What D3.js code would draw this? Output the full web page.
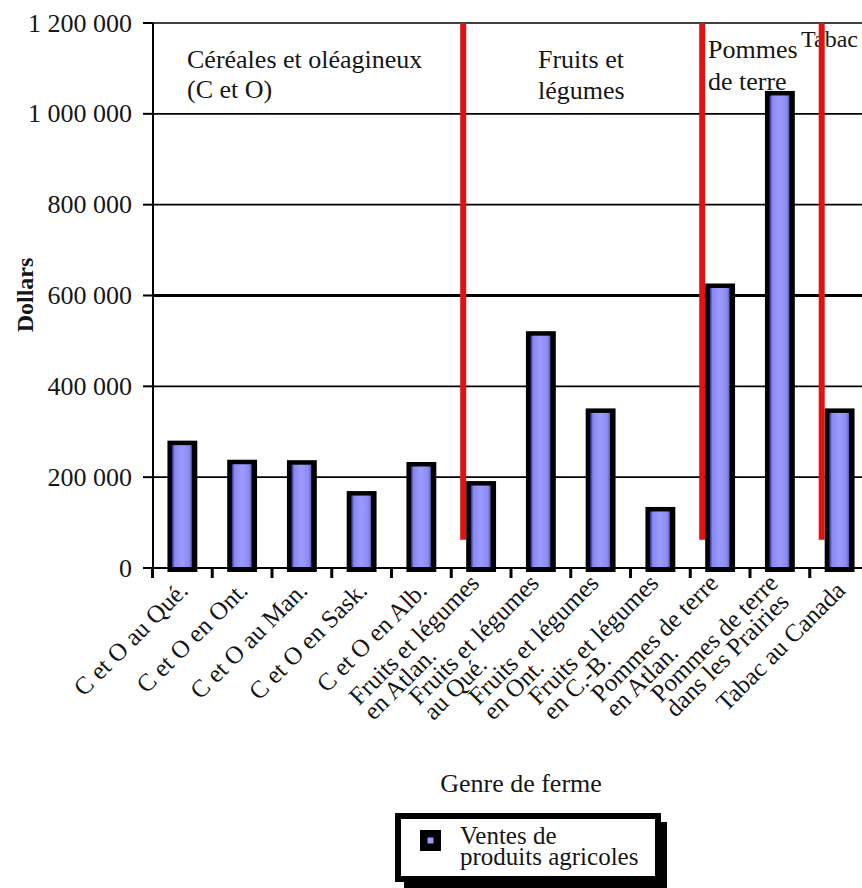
<!DOCTYPE html>
<html>
<head>
<meta charset="utf-8">
<script src="https://cdn.jsdelivr.net/npm/d3@7"></script>
<style>
  body { margin: 0; background: #fff; }
  svg { display: block; }
  text { font-family: "Liberation Serif", "Times New Roman", serif; fill: #161616; }
</style>
</head>
<body>
<svg id="canvas" width="862" height="888"></svg>
<script>
// farm types, one label line per entry
var categories = [
    ['C et O au Qué.'],
    ['C et O en Ont.'],
    ['C et O au Man.'],
    ['C et O en Sask.'],
    ['C et O en Alb.'],
    ['Fruits et légumes', 'en Atlan.'],
    ['Fruits et légumes', 'au Qué.'],
    ['Fruits et légumes', 'en Ont.'],
    ['Fruits et légumes', 'en C.-B.'],
    ['Pommes de terre', 'en Atlan.'],
    ['Pommes de terre', 'dans les Prairies'],
    ['Tabac au Canada']
];
var sales = [276000, 234000, 233000, 165000, 229000, 187000, 517000, 347000, 130000, 622000, 1046000, 347000];
var yTicks = [0, 200000, 400000, 600000, 800000, 1000000, 1200000];
var groupNames = [['Céréales et oléagineux', '(C et O)'], ['Fruits et', 'légumes'], ['Pommes', 'de terre'], ['Tabac']];
var separators = [5, 9, 11];   // red line before these categories
var seriesName = ['Ventes de', 'produits agricoles'];

(function() {
    var svg = d3.select('#canvas');
    var fontSize = 26;

    function fmt(v) {
        return d3.format(',')(v).replace(/,/g, ' ');
    }

    var x = d3.scaleBand()
        .domain(d3.range(categories.length))
        .range([152.5, 869.5]);
    var y = d3.scaleLinear()
        .domain([0, 1200000])
        .range([568, 23]);
    var step = x.step();

    var defs = svg.append('defs');
    var grad = defs.append('linearGradient').attr('id', 'barFill');
    [['0%', '#23238a'], ['14%', '#8888ee'], ['50%', '#9a9aff'], ['86%', '#8c8cf0'], ['100%', '#5a5ab8']]
        .forEach(function(s) {
            grad.append('stop').attr('offset', s[0]).attr('stop-color', s[1]);
        });

    // gridlines
    svg.append('g')
        .selectAll('line')
        .data(yTicks.slice(1))
        .enter().append('line')
        .attr('x1', 153).attr('x2', 862)
        .attr('y1', function(d) { return y(d); })
        .attr('y2', function(d) { return y(d); })
        .attr('stroke', '#000')
        .attr('stroke-width', function(d) { return d === 600000 ? 3 : 1.6; });

    // bars: black frame, blue body
    var bar = svg.append('g')
        .selectAll('g')
        .data(sales)
        .enter().append('g');
    var bw = step * 0.5;
    bar.append('rect')
        .attr('x', function(d, i) { return x(i) + step * 0.25; })
        .attr('y', function(d) { return y(d) - 2; })
        .attr('width', bw)
        .attr('height', function(d) { return y(0) - y(d) + 6; })
        .attr('fill', '#000');
    bar.append('rect')
        .attr('x', function(d, i) { return x(i) + step * 0.25 + 4.5; })
        .attr('y', function(d) { return y(d) + 2.5; })
        .attr('width', bw - 10)
        .attr('height', function(d) { return y(0) - y(d) - 3; })
        .attr('fill', 'url(#barFill)');

    // group captions inside the plot
    var groupPos = [[187, 68, 30, 26], [538, 68, 31, 26], [708, 58, 32, 26], [801, 47, 30, 24]];
    groupNames.forEach(function(lines, g) {
        var p = groupPos[g];
        lines.forEach(function(t, k) {
            svg.append('text')
                .attr('x', p[0])
                .attr('y', p[1] + k * p[2])
                .attr('font-size', p[3])
                .text(t);
        });
    });

    // red separators
    svg.append('g')
        .selectAll('line')
        .data(separators)
        .enter().append('line')
        .attr('x1', function(d) { return x(d) + step * 0.2; })
        .attr('x2', function(d) { return x(d) + step * 0.2; })
        .attr('y1', y(1200000))
        .attr('y2', y(62000))
        .attr('stroke', '#e01212')
        .attr('stroke-width', 6);

    // axes
    svg.append('line')
        .attr('x1', 153).attr('x2', 153)
        .attr('y1', y(1200000)).attr('y2', y(0))
        .attr('stroke', '#000').attr('stroke-width', 2);
    svg.append('line')
        .attr('x1', 143).attr('x2', 862)
        .attr('y1', y(0)).attr('y2', y(0))
        .attr('stroke', '#000').attr('stroke-width', 2.2);

    svg.append('g')
        .selectAll('line')
        .data(yTicks)
        .enter().append('line')
        .attr('x1', 143).attr('x2', 153)
        .attr('y1', function(d) { return y(d); })
        .attr('y2', function(d) { return y(d); })
        .attr('stroke', '#000').attr('stroke-width', 2);

    svg.append('g')
        .selectAll('text')
        .data(yTicks)
        .enter().append('text')
        .attr('x', 132)
        .attr('y', function(d) { return y(d) + 8.5; })
        .attr('text-anchor', 'end')
        .attr('font-size', fontSize)
        .attr('fill', '#2a2a2a')
        .text(fmt);

    svg.append('g')
        .selectAll('line')
        .data(d3.range(categories.length + 1))
        .enter().append('line')
        .attr('x1', function(d) { return 152.5 + d * step; })
        .attr('x2', function(d) { return 152.5 + d * step; })
        .attr('y1', y(0)).attr('y2', y(0) + 10)
        .attr('stroke', '#000').attr('stroke-width', 3);

    // rotated category labels, lines left-aligned, tight leading
    var lh = 21;
    categories.forEach(function(lines, i) {
        var cx = x(i) + step / 2;
        var g = svg.append('g')
            .attr('transform', 'translate(' + (cx + 7) + ',592) rotate(-45)');
        var texts = lines.map(function(t, k) {
            return g.append('text')
                .attr('font-size', 25)
                .attr('y', (k - (lines.length - 1) / 2) * lh)
                .text(t);
        });
        var maxLen = d3.max(texts, function(t) { return t.node().getComputedTextLength(); });
        texts.forEach(function(t) { t.attr('x', -maxLen); });
    });

    svg.append('text')
        .attr('transform', 'translate(33,295) rotate(-90)')
        .attr('text-anchor', 'middle')
        .attr('font-size', 24)
        .attr('font-weight', 'bold')
        .text('Dollars');

    svg.append('text')
        .attr('x', 521)
        .attr('y', 792)
        .attr('text-anchor', 'middle')
        .attr('font-size', fontSize)
        .text('Genre de ferme');

    // legend
    var lg = svg.append('g');
    lg.append('rect')
        .attr('x', 404).attr('y', 822).attr('width', 263).attr('height', 66)
        .attr('fill', '#000');
    lg.append('rect')
        .attr('x', 398).attr('y', 816).attr('width', 260).attr('height', 63)
        .attr('fill', '#fff').attr('stroke', '#000').attr('stroke-width', 6);
    lg.append('rect')
        .attr('x', 420).attr('y', 830).attr('width', 21).attr('height', 21)
        .attr('fill', '#000');
    lg.append('rect')
        .attr('x', 427.5).attr('y', 837.5).attr('width', 6).attr('height', 6)
        .attr('fill', '#9a9aff');
    var lt = lg.append('text')
        .attr('font-size', 25);
    seriesName.forEach(function(t, k) {
        lt.append('tspan')
            .attr('x', 460)
            .attr('y', 844 + k * 21)
            .text(t);
    });
})();
</script>
</body>
</html>
